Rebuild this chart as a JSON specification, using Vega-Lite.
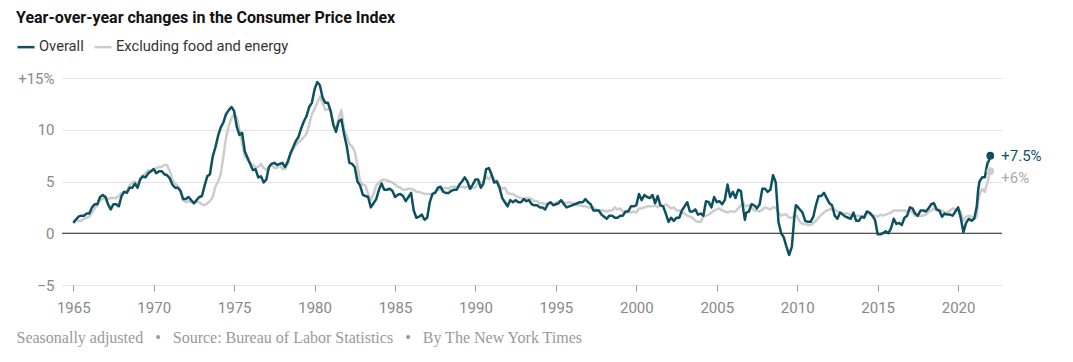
{
  "$schema": "https://vega.github.io/schema/vega-lite/v6.json",
  "width": 940,
  "height": 207,
  "autosize": {"type": "none"},
  "padding": {"left": 62, "top": 78, "right": 71, "bottom": 77},
  "background": "#ffffff",
  "config": {"view": {"stroke": null}, "font": "Roboto"},
  "title": {"text": "Year-over-year changes in the Consumer Price Index", "anchor": "start", "frame": "group", "dx": -46, "fontSize": 16, "fontWeight": "bold", "color": "#121212", "font": "Roboto", "offset": 11},
  "datasets": {
    "cpi": [
      {"d":"1965-01","o":1.0,"c":1.2},{"d":"1965-03","o":1.3,"c":1.3},{"d":"1965-05","o":1.6,"c":1.2},{"d":"1965-07","o":1.7,"c":1.2},{"d":"1965-09","o":1.7,"c":1.4},{"d":"1965-11","o":1.9,"c":1.5},
      {"d":"1966-01","o":1.9,"c":1.6},{"d":"1966-03","o":2.5,"c":2.0},{"d":"1966-05","o":2.8,"c":2.4},{"d":"1966-07","o":2.8,"c":2.7},{"d":"1966-09","o":3.5,"c":3.2},{"d":"1966-11","o":3.7,"c":3.3},
      {"d":"1967-01","o":3.5,"c":3.5},{"d":"1967-03","o":2.8,"c":3.3},{"d":"1967-05","o":2.3,"c":3.4},{"d":"1967-07","o":2.8,"c":3.4},{"d":"1967-09","o":2.8,"c":3.4},{"d":"1967-11","o":2.6,"c":3.6},
      {"d":"1968-01","o":3.6,"c":3.9},{"d":"1968-03","o":4.0,"c":4.0},{"d":"1968-05","o":3.9,"c":4.1},{"d":"1968-07","o":4.4,"c":4.6},{"d":"1968-09","o":4.4,"c":4.9},{"d":"1968-11","o":4.8,"c":5.0},
      {"d":"1969-01","o":4.4,"c":4.7},{"d":"1969-03","o":5.2,"c":5.3},{"d":"1969-05","o":5.5,"c":5.6},{"d":"1969-07","o":5.4,"c":5.8},{"d":"1969-09","o":5.8,"c":6.1},{"d":"1969-11","o":6.0,"c":6.0},
      {"d":"1970-01","o":6.2,"c":6.1},{"d":"1970-03","o":5.8,"c":6.3},{"d":"1970-05","o":6.0,"c":6.4},{"d":"1970-07","o":6.0,"c":6.4},{"d":"1970-09","o":5.7,"c":6.6},{"d":"1970-11","o":5.6,"c":6.6},
      {"d":"1971-01","o":5.3,"c":6.0},{"d":"1971-03","o":4.7,"c":5.2},{"d":"1971-05","o":4.4,"c":4.8},{"d":"1971-07","o":4.4,"c":4.6},{"d":"1971-09","o":4.1,"c":4.1},{"d":"1971-11","o":3.3,"c":3.2},
      {"d":"1972-01","o":3.3,"c":3.0},{"d":"1972-03","o":3.5,"c":3.1},{"d":"1972-05","o":3.2,"c":3.0},{"d":"1972-07","o":2.9,"c":2.9},{"d":"1972-09","o":3.2,"c":3.0},{"d":"1972-11","o":3.5,"c":3.0},
      {"d":"1973-01","o":3.6,"c":2.8},{"d":"1973-03","o":4.6,"c":2.7},{"d":"1973-05","o":5.5,"c":2.9},{"d":"1973-07","o":5.7,"c":3.1},{"d":"1973-09","o":7.4,"c":3.5},{"d":"1973-11","o":8.3,"c":4.5},
      {"d":"1974-01","o":9.4,"c":5.0},{"d":"1974-03","o":10.2,"c":5.7},{"d":"1974-05","o":10.7,"c":7.4},{"d":"1974-07","o":11.5,"c":9.2},{"d":"1974-09","o":11.9,"c":10.4},{"d":"1974-11","o":12.2,"c":11.1},
      {"d":"1975-01","o":11.8,"c":11.5},{"d":"1975-03","o":10.3,"c":11.2},{"d":"1975-05","o":9.5,"c":10.0},{"d":"1975-07","o":9.7,"c":8.7},{"d":"1975-09","o":7.9,"c":7.4},{"d":"1975-11","o":7.3,"c":7.1},
      {"d":"1976-01","o":6.7,"c":6.8},{"d":"1976-03","o":6.1,"c":6.6},{"d":"1976-05","o":6.2,"c":6.4},{"d":"1976-07","o":5.4,"c":6.4},{"d":"1976-09","o":5.5,"c":6.7},{"d":"1976-11","o":4.9,"c":6.3},
      {"d":"1977-01","o":5.2,"c":6.1},{"d":"1977-03","o":6.4,"c":6.4},{"d":"1977-05","o":6.7,"c":6.7},{"d":"1977-07","o":6.8,"c":6.3},{"d":"1977-09","o":6.6,"c":6.3},{"d":"1977-11","o":6.7,"c":6.6},
      {"d":"1978-01","o":6.8,"c":6.2},{"d":"1978-03","o":6.4,"c":6.2},{"d":"1978-05","o":6.9,"c":6.7},{"d":"1978-07","o":7.7,"c":7.6},{"d":"1978-09","o":8.3,"c":8.1},{"d":"1978-11","o":8.9,"c":8.5},
      {"d":"1979-01","o":9.3,"c":8.8},{"d":"1979-03","o":10.1,"c":9.0},{"d":"1979-05","o":10.8,"c":9.3},{"d":"1979-07","o":11.3,"c":9.6},{"d":"1979-09","o":12.2,"c":10.5},{"d":"1979-11","o":12.6,"c":11.5},
      {"d":"1980-01","o":13.9,"c":12.0},{"d":"1980-03","o":14.6,"c":12.6},{"d":"1980-05","o":14.3,"c":13.2},{"d":"1980-07","o":13.1,"c":12.6},{"d":"1980-09","o":12.6,"c":11.9},{"d":"1980-11","o":12.6,"c":12.0},
      {"d":"1981-01","o":11.8,"c":11.8},{"d":"1981-03","o":10.5,"c":10.6},{"d":"1981-05","o":9.8,"c":10.0},{"d":"1981-07","o":10.8,"c":11.1},{"d":"1981-09","o":11.0,"c":11.9},{"d":"1981-11","o":9.6,"c":10.0},
      {"d":"1982-01","o":8.4,"c":9.4},{"d":"1982-03","o":6.8,"c":8.6},{"d":"1982-05","o":6.7,"c":8.4},{"d":"1982-07","o":6.4,"c":7.9},{"d":"1982-09","o":5.0,"c":6.5},{"d":"1982-11","o":4.6,"c":5.0},
      {"d":"1983-01","o":3.7,"c":4.7},{"d":"1983-03","o":3.6,"c":4.6},{"d":"1983-05","o":3.5,"c":3.8},{"d":"1983-07","o":2.5,"c":3.2},{"d":"1983-09","o":2.9,"c":3.8},{"d":"1983-11","o":3.3,"c":4.6},
      {"d":"1984-01","o":4.2,"c":4.9},{"d":"1984-03","o":4.8,"c":5.1},{"d":"1984-05","o":4.2,"c":5.2},{"d":"1984-07","o":4.2,"c":5.1},{"d":"1984-09","o":4.3,"c":5.0},{"d":"1984-11","o":4.1,"c":4.9},
      {"d":"1985-01","o":3.5,"c":4.7},{"d":"1985-03","o":3.7,"c":4.5},{"d":"1985-05","o":3.8,"c":4.4},{"d":"1985-07","o":3.6,"c":4.2},{"d":"1985-09","o":3.1,"c":4.2},{"d":"1985-11","o":3.5,"c":4.3},
      {"d":"1986-01","o":3.9,"c":4.3},{"d":"1986-03","o":2.2,"c":4.2},{"d":"1986-05","o":1.5,"c":4.0},{"d":"1986-07","o":1.6,"c":4.0},{"d":"1986-09","o":1.8,"c":3.9},{"d":"1986-11","o":1.3,"c":3.8},
      {"d":"1987-01","o":1.5,"c":3.8},{"d":"1987-03","o":3.0,"c":3.8},{"d":"1987-05","o":3.8,"c":3.8},{"d":"1987-07","o":3.9,"c":4.0},{"d":"1987-09","o":4.4,"c":4.2},{"d":"1987-11","o":4.5,"c":4.2},
      {"d":"1988-01","o":4.0,"c":4.3},{"d":"1988-03","o":3.9,"c":4.4},{"d":"1988-05","o":3.9,"c":4.3},{"d":"1988-07","o":4.1,"c":4.5},{"d":"1988-09","o":4.2,"c":4.5},{"d":"1988-11","o":4.2,"c":4.5},
      {"d":"1989-01","o":4.7,"c":4.5},{"d":"1989-03","o":5.0,"c":4.5},{"d":"1989-05","o":5.4,"c":4.4},{"d":"1989-07","o":5.0,"c":4.5},{"d":"1989-09","o":4.3,"c":4.3},{"d":"1989-11","o":4.7,"c":4.4},
      {"d":"1990-01","o":5.2,"c":4.4},{"d":"1990-03","o":5.2,"c":4.9},{"d":"1990-05","o":4.4,"c":4.9},{"d":"1990-07","o":4.8,"c":5.0},{"d":"1990-09","o":6.2,"c":5.5},{"d":"1990-11","o":6.3,"c":5.2},
      {"d":"1991-01","o":5.7,"c":5.6},{"d":"1991-03","o":4.9,"c":5.2},{"d":"1991-05","o":5.0,"c":5.1},{"d":"1991-07","o":4.4,"c":4.6},{"d":"1991-09","o":3.4,"c":4.3},{"d":"1991-11","o":3.0,"c":4.4},
      {"d":"1992-01","o":2.6,"c":3.9},{"d":"1992-03","o":3.2,"c":3.8},{"d":"1992-05","o":3.0,"c":3.8},{"d":"1992-07","o":3.2,"c":3.6},{"d":"1992-09","o":3.0,"c":3.5},{"d":"1992-11","o":3.0,"c":3.4},
      {"d":"1993-01","o":3.3,"c":3.3},{"d":"1993-03","o":3.1,"c":3.4},{"d":"1993-05","o":3.2,"c":3.4},{"d":"1993-07","o":2.8,"c":3.3},{"d":"1993-09","o":2.7,"c":3.1},{"d":"1993-11","o":2.7,"c":3.1},
      {"d":"1994-01","o":2.5,"c":2.9},{"d":"1994-03","o":2.5,"c":2.9},{"d":"1994-05","o":2.3,"c":2.8},{"d":"1994-07","o":2.8,"c":2.9},{"d":"1994-09","o":3.0,"c":3.0},{"d":"1994-11","o":2.7,"c":2.8},
      {"d":"1995-01","o":2.8,"c":2.9},{"d":"1995-03","o":2.9,"c":3.1},{"d":"1995-05","o":3.2,"c":3.1},{"d":"1995-07","o":2.8,"c":3.0},{"d":"1995-09","o":2.5,"c":2.9},{"d":"1995-11","o":2.6,"c":3.0},
      {"d":"1996-01","o":2.7,"c":2.9},{"d":"1996-03","o":2.8,"c":2.8},{"d":"1996-05","o":2.9,"c":2.7},{"d":"1996-07","o":3.0,"c":2.7},{"d":"1996-09","o":3.0,"c":2.6},{"d":"1996-11","o":3.3,"c":2.6},
      {"d":"1997-01","o":3.0,"c":2.5},{"d":"1997-03","o":2.8,"c":2.5},{"d":"1997-05","o":2.2,"c":2.5},{"d":"1997-07","o":2.2,"c":2.3},{"d":"1997-09","o":2.2,"c":2.2},{"d":"1997-11","o":1.8,"c":2.2},
      {"d":"1998-01","o":1.6,"c":2.2},{"d":"1998-03","o":1.4,"c":2.1},{"d":"1998-05","o":1.7,"c":2.2},{"d":"1998-07","o":1.7,"c":2.2},{"d":"1998-09","o":1.5,"c":2.5},{"d":"1998-11","o":1.5,"c":2.3},
      {"d":"1999-01","o":1.7,"c":2.4},{"d":"1999-03","o":1.7,"c":2.1},{"d":"1999-05","o":2.1,"c":2.0},{"d":"1999-07","o":2.1,"c":2.1},{"d":"1999-09","o":2.6,"c":2.0},{"d":"1999-11","o":2.6,"c":2.1},
      {"d":"2000-01","o":2.7,"c":2.0},{"d":"2000-03","o":3.8,"c":2.4},{"d":"2000-05","o":3.2,"c":2.4},{"d":"2000-07","o":3.7,"c":2.5},{"d":"2000-09","o":3.5,"c":2.6},{"d":"2000-11","o":3.4,"c":2.6},
      {"d":"2001-01","o":3.7,"c":2.6},{"d":"2001-03","o":2.9,"c":2.7},{"d":"2001-05","o":3.6,"c":2.5},{"d":"2001-07","o":2.7,"c":2.7},{"d":"2001-09","o":2.6,"c":2.6},{"d":"2001-11","o":1.9,"c":2.8},
      {"d":"2002-01","o":1.1,"c":2.6},{"d":"2002-03","o":1.5,"c":2.4},{"d":"2002-05","o":1.2,"c":2.5},{"d":"2002-07","o":1.5,"c":2.2},{"d":"2002-09","o":1.5,"c":2.2},{"d":"2002-11","o":2.2,"c":2.0},
      {"d":"2003-01","o":2.6,"c":1.9},{"d":"2003-03","o":3.0,"c":1.7},{"d":"2003-05","o":2.1,"c":1.6},{"d":"2003-07","o":2.1,"c":1.5},{"d":"2003-09","o":2.3,"c":1.2},{"d":"2003-11","o":1.8,"c":1.1},
      {"d":"2004-01","o":1.9,"c":1.1},{"d":"2004-03","o":1.7,"c":1.6},{"d":"2004-05","o":3.1,"c":1.7},{"d":"2004-07","o":3.0,"c":1.8},{"d":"2004-09","o":2.5,"c":2.0},{"d":"2004-11","o":3.5,"c":2.2},
      {"d":"2005-01","o":3.0,"c":2.3},{"d":"2005-03","o":3.1,"c":2.4},{"d":"2005-05","o":2.8,"c":2.2},{"d":"2005-07","o":3.2,"c":2.1},{"d":"2005-09","o":4.7,"c":2.0},{"d":"2005-11","o":3.5,"c":2.1},
      {"d":"2006-01","o":4.0,"c":2.1},{"d":"2006-03","o":3.4,"c":2.1},{"d":"2006-05","o":4.2,"c":2.4},{"d":"2006-07","o":4.1,"c":2.7},{"d":"2006-09","o":2.1,"c":2.9},{"d":"2006-10","o":1.3,"c":2.7},{"d":"2006-11","o":2.0,"c":2.6},
      {"d":"2007-01","o":2.1,"c":2.7},{"d":"2007-03","o":2.8,"c":2.5},{"d":"2007-05","o":2.7,"c":2.2},{"d":"2007-07","o":2.4,"c":2.2},{"d":"2007-09","o":2.8,"c":2.1},{"d":"2007-11","o":4.3,"c":2.3},
      {"d":"2008-01","o":4.3,"c":2.5},{"d":"2008-03","o":4.0,"c":2.4},{"d":"2008-05","o":4.2,"c":2.3},{"d":"2008-07","o":5.6,"c":2.5},{"d":"2008-09","o":4.9,"c":2.5},{"d":"2008-11","o":1.1,"c":2.0},
      {"d":"2009-01","o":0.0,"c":1.7},{"d":"2009-03","o":-0.4,"c":1.8},{"d":"2009-05","o":-1.3,"c":1.8},{"d":"2009-07","o":-2.1,"c":1.5},{"d":"2009-09","o":-1.3,"c":1.5},{"d":"2009-11","o":1.8,"c":1.7},{"d":"2009-12","o":2.7,"c":1.8},
      {"d":"2010-01","o":2.6,"c":1.6},{"d":"2010-03","o":2.3,"c":1.1},{"d":"2010-05","o":2.0,"c":0.9},{"d":"2010-07","o":1.2,"c":0.9},{"d":"2010-09","o":1.1,"c":0.8},{"d":"2010-11","o":1.1,"c":0.8},
      {"d":"2011-01","o":1.6,"c":1.0},{"d":"2011-03","o":2.7,"c":1.2},{"d":"2011-05","o":3.6,"c":1.5},{"d":"2011-07","o":3.6,"c":1.8},{"d":"2011-09","o":3.9,"c":2.0},{"d":"2011-11","o":3.4,"c":2.2},
      {"d":"2012-01","o":2.9,"c":2.3},{"d":"2012-03","o":2.7,"c":2.3},{"d":"2012-05","o":1.7,"c":2.3},{"d":"2012-07","o":1.4,"c":2.1},{"d":"2012-09","o":2.0,"c":2.0},{"d":"2012-11","o":1.8,"c":1.9},
      {"d":"2013-01","o":1.6,"c":1.9},{"d":"2013-03","o":1.5,"c":1.9},{"d":"2013-05","o":1.4,"c":1.7},{"d":"2013-07","o":2.0,"c":1.7},{"d":"2013-09","o":1.2,"c":1.7},{"d":"2013-11","o":1.2,"c":1.7},
      {"d":"2014-01","o":1.6,"c":1.6},{"d":"2014-03","o":1.5,"c":1.7},{"d":"2014-05","o":2.1,"c":2.0},{"d":"2014-07","o":2.0,"c":1.9},{"d":"2014-09","o":1.7,"c":1.7},{"d":"2014-11","o":1.3,"c":1.7},
      {"d":"2015-01","o":-0.1,"c":1.6},{"d":"2015-03","o":-0.1,"c":1.8},{"d":"2015-05","o":0.0,"c":1.7},{"d":"2015-07","o":0.2,"c":1.8},{"d":"2015-09","o":0.0,"c":1.9},{"d":"2015-11","o":0.5,"c":2.0},
      {"d":"2016-01","o":1.4,"c":2.2},{"d":"2016-03","o":0.9,"c":2.2},{"d":"2016-05","o":1.0,"c":2.2},{"d":"2016-07","o":0.8,"c":2.2},{"d":"2016-09","o":1.5,"c":2.2},{"d":"2016-11","o":1.7,"c":2.1},
      {"d":"2017-01","o":2.5,"c":2.3},{"d":"2017-03","o":2.4,"c":2.0},{"d":"2017-05","o":1.9,"c":1.7},{"d":"2017-07","o":1.7,"c":1.7},{"d":"2017-09","o":2.2,"c":1.7},{"d":"2017-11","o":2.2,"c":1.7},
      {"d":"2018-01","o":2.1,"c":1.8},{"d":"2018-03","o":2.4,"c":2.1},{"d":"2018-05","o":2.8,"c":2.2},{"d":"2018-07","o":2.9,"c":2.4},{"d":"2018-09","o":2.3,"c":2.2},{"d":"2018-11","o":2.2,"c":2.2},
      {"d":"2019-01","o":1.6,"c":2.2},{"d":"2019-03","o":1.9,"c":2.0},{"d":"2019-05","o":1.8,"c":2.0},{"d":"2019-07","o":1.8,"c":2.2},{"d":"2019-09","o":1.7,"c":2.4},{"d":"2019-11","o":2.1,"c":2.3},
      {"d":"2020-01","o":2.5,"c":2.3},{"d":"2020-03","o":1.5,"c":2.1},{"d":"2020-05","o":0.1,"c":1.2},{"d":"2020-07","o":1.0,"c":1.6},{"d":"2020-09","o":1.4,"c":1.7},{"d":"2020-11","o":1.2,"c":1.6},
      {"d":"2021-01","o":1.4,"c":1.4},{"d":"2021-03","o":2.6,"c":1.6},{"d":"2021-04","o":4.2,"c":3.0},{"d":"2021-05","o":5.0,"c":3.8},{"d":"2021-07","o":5.4,"c":4.3},{"d":"2021-09","o":5.4,"c":4.0},{"d":"2021-10","o":6.2,"c":4.6},{"d":"2021-11","o":6.8,"c":4.9},{"d":"2021-12","o":7.0,"c":5.5},
      {"d":"2022-01","o":7.5,"c":6.0}
    ],
    "ends": [
      {"d":"2022-01","v":6.0,"k":"c","t":"+6%"},
      {"d":"2022-01","v":7.5,"k":"o","t":"+7.5%"}
    ]
  },
  "layer": [
    {
      "data": {"values": [{}]},
      "mark": {"type": "rule", "color": "#222222", "strokeWidth": 1},
      "encoding": {"y": {"datum": 0, "type": "quantitative", "scale": {"domain": [-5, 15], "nice": false}}}
    },
    {
      "data": {"name": "cpi"},
      "mark": {"type": "line", "strokeWidth": 2.5, "strokeJoin": "round"},
      "encoding": {
        "x": {"field": "d", "type": "temporal", "scale": {"domain": ["1964-04-20", "2022-09-24"], "nice": false},
          "axis": {"title": "Seasonally adjusted\u2002\u00a0\u2022\u2002\u00a0Source: Bureau of Labor Statistics\u2002\u00a0\u2022\u2002\u00a0By The New York Times", "titleFont": "Liberation Serif", "titleFontSize": 16, "titleFontWeight": "normal", "titleColor": "#999999", "titleAnchor": "start", "titleAlign": "left", "titleX": -46, "titleY": 57, "titleBaseline": "alphabetic",
            "format": "%Y", "tickCount": {"interval": "year", "step": 5}, "domain": false, "grid": false, "ticks": true, "tickColor": "#999999", "tickSize": 6, "labelFontSize": 15, "labelColor": "#888888", "labelPadding": 9, "labelFlush": false, "labelFont": "Roboto"}},
        "y": {"field": "c", "type": "quantitative", "scale": {"domain": [-5, 15], "nice": false},
          "axis": {"title": null, "values": [-5, 0, 5, 10, 15], "labelExpr": "datum.value == 15 ? '+15%' : datum.label", "domain": false, "ticks": false, "grid": true, "gridColor": "#e3e3e3", "labelFontSize": 15, "labelColor": "#888888", "labelPadding": 8, "labelFont": "Roboto"}},
        "color": {"datum": "c", "type": "nominal", "title": null, "scale": {"domain": ["o", "c"], "range": ["#0c5160", "#cccccc"]},
          "legend": {"orient": "none", "legendX": -46, "legendY": -41, "direction": "horizontal", "title": null, "symbolType": "stroke", "symbolSize": 289, "symbolStrokeWidth": 2.5, "labelFontSize": 14.7, "labelColor": "#333333", "labelFont": "Roboto", "labelLimit": 400, "labelExpr": "datum.value == 'o' ? 'Overall' : 'Excluding food and energy'", "labelOffset": 3, "columnPadding": 5, "padding": 0}}
      }
    },
    {
      "data": {"name": "cpi"},
      "mark": {"type": "line", "strokeWidth": 2.5, "strokeJoin": "round"},
      "encoding": {
        "x": {"field": "d", "type": "temporal"},
        "y": {"field": "o", "type": "quantitative"},
        "color": {"datum": "o", "type": "nominal", "title": null}
      }
    },
    {
      "data": {"name": "ends"},
      "mark": {"type": "circle", "opacity": 1},
      "encoding": {
        "x": {"field": "d", "type": "temporal"},
        "y": {"field": "v", "type": "quantitative"},
        "color": {"field": "k", "type": "nominal", "title": null, "legend": null},
        "size": {"value": 60}
      }
    },
    {
      "data": {"name": "ends"},
      "transform": [{"filter": "datum.k == 'o'"}],
      "mark": {"type": "text", "align": "left", "baseline": "middle", "dx": 11, "dy": 0, "fontSize": 15, "font": "Roboto", "color": "#0c5160"},
      "encoding": {
        "x": {"field": "d", "type": "temporal"},
        "y": {"field": "v", "type": "quantitative"},
        "text": {"field": "t"}
      }
    },
    {
      "data": {"name": "ends"},
      "transform": [{"filter": "datum.k == 'c'"}],
      "mark": {"type": "text", "align": "left", "baseline": "middle", "dx": 11, "dy": 7, "fontSize": 15, "font": "Roboto", "color": "#aaaaaa"},
      "encoding": {
        "x": {"field": "d", "type": "temporal"},
        "y": {"field": "v", "type": "quantitative"},
        "text": {"field": "t"}
      }
    }
  ]
}
